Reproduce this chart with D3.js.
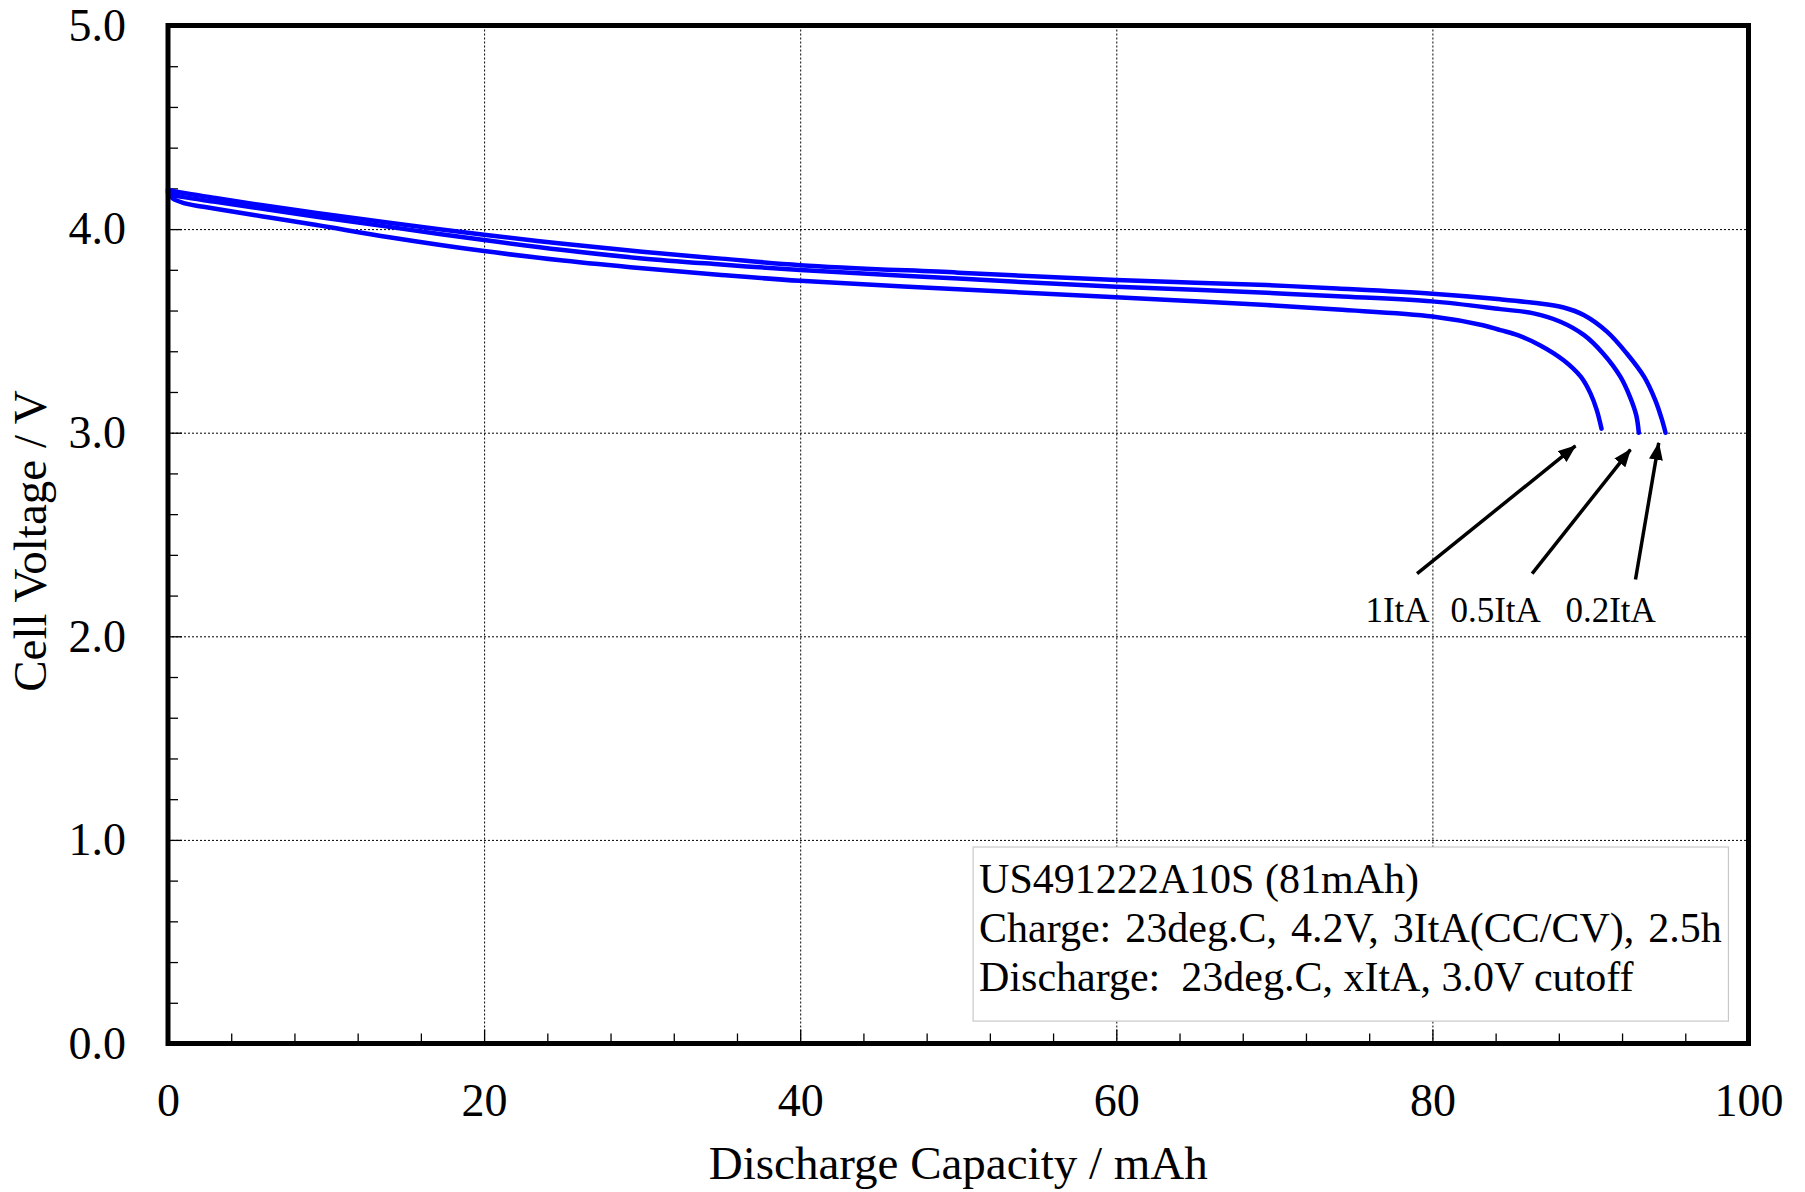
<!DOCTYPE html>
<html>
<head>
<meta charset="utf-8">
<script src="https://cdn.jsdelivr.net/npm/d3@7"></script>
<style>
  html, body { margin: 0; padding: 0; background: #fff; }
  svg { display: block; }
  text { font-family: "Liberation Serif", "Times New Roman", serif; fill: #000; }
</style>
</head>
<body>
<svg id="chart" width="1805" height="1192"></svg>
<script>
// ---------------- DATA ----------------
const xTicks = [0, 20, 40, 60, 80, 100];
const yTicks = [0, 1, 2, 3, 4, 5];
const xMinorTicks = [4, 8, 12, 16, 24, 28, 32, 36, 44, 48, 52, 56, 64, 68, 72, 76, 84, 88, 92, 96];
const yMinorTicks = [0.2, 0.4, 0.6, 0.8, 1.2, 1.4, 1.6, 1.8, 2.2, 2.4, 2.6, 2.8, 3.2, 3.4, 3.6, 3.8, 4.2, 4.4, 4.6, 4.8];
const xGrid = [20, 40, 60, 80];
const yGrid = [1, 2, 3, 4];

const seriesNames = ["0.2ItA", "0.5ItA", "1ItA"];

const cap02 = [0, 0.3, 1, 3, 6, 9.4, 14, 20, 25, 30, 35, 40, 50, 60, 65, 69.5, 74, 80, 84.3, 86.4, 88.3, 89.6, 91.06, 92.3, 93.4, 94.1, 94.5, 94.75];
const volt02 = [4.195, 4.187, 4.177, 4.153, 4.117, 4.079, 4.031, 3.972, 3.928, 3.889, 3.855, 3.823, 3.786, 3.750, 3.737, 3.725, 3.708, 3.682, 3.655, 3.638, 3.615, 3.577, 3.495, 3.389, 3.274, 3.160, 3.070, 3.000];

const cap05 = [0, 0.3, 1, 3, 6, 9.4, 14, 20, 25, 30, 35, 40, 50, 60, 65, 69.5, 74, 80, 84.3, 86.4, 88.1, 89.6, 90.8, 91.9, 92.5, 92.9, 93.06];
const volt05 = [4.188, 4.168, 4.157, 4.134, 4.100, 4.061, 4.011, 3.946, 3.897, 3.856, 3.826, 3.799, 3.757, 3.717, 3.702, 3.687, 3.670, 3.645, 3.607, 3.586, 3.545, 3.479, 3.389, 3.274, 3.176, 3.085, 3.000];

const cap10 = [0, 0.3, 1, 3, 6, 9.4, 14, 20, 25, 30, 35, 40, 50, 60, 65, 69.5, 74, 80, 83.2, 84.3, 85.4, 86.8, 88.3, 89.4, 90.0, 90.4, 90.7];
const volt10 = [4.180, 4.150, 4.128, 4.100, 4.062, 4.020, 3.960, 3.892, 3.846, 3.808, 3.775, 3.746, 3.705, 3.665, 3.646, 3.627, 3.605, 3.571, 3.528, 3.504, 3.479, 3.430, 3.356, 3.274, 3.193, 3.111, 3.020];

// annotation labels and arrows (data units)
const annLabels = ["1ItA", "0.5ItA", "0.2ItA"];
const annLabelX = [75.76, 81.14, 88.42];
const annLabelY = 2.07;
const arrowTailX = [79.03, 86.31, 92.85];
const arrowTailY = [2.308, 2.308, 2.279];
const arrowTipX = [89.05, 92.53, 94.32];
const arrowTipY = [2.935, 2.917, 2.950];

const legendLines = ["US491222A10S (81mAh)", "Charge: 23deg.C, 4.2V, 3ItA(CC/CV), 2.5h", "Discharge:  23deg.C, xItA, 3.0V cutoff"];

const xTitle = "Discharge Capacity / mAh";
const yTitle = "Cell Voltage / V";

// ---------------- LAYOUT ----------------
const L = 168, R = 1748.5, T = 25.5, B = 1043.5;
const svg = d3.select("#chart");
const x = d3.scaleLinear().domain([0, 100]).range([L, R]);
const y = d3.scaleLinear().domain([0, 5]).range([B, T]);
const serif = "Liberation Serif, Times New Roman, serif";

// gridlines
svg.append("g").attr("transform", `translate(0,${B})`)
  .call(d3.axisBottom(x).tickValues(xGrid).tickSize(-(B - T)).tickFormat(""))
  .call(g => g.select(".domain").remove())
  .call(g => g.selectAll("line").attr("stroke", "#000").attr("stroke-width", 1).attr("stroke-dasharray", "2,2"));
svg.append("g").attr("transform", `translate(${L},0)`)
  .call(d3.axisLeft(y).tickValues(yGrid).tickSize(-(R - L)).tickFormat(""))
  .call(g => g.select(".domain").remove())
  .call(g => g.selectAll("line").attr("stroke", "#000").attr("stroke-width", 1).attr("stroke-dasharray", "2,2"));

// minor ticks (inward)
svg.append("g").attr("transform", `translate(0,${B})`)
  .call(d3.axisBottom(x).tickValues(xMinorTicks).tickSize(-10).tickFormat(""))
  .call(g => g.select(".domain").remove())
  .call(g => g.selectAll("line").attr("stroke", "#000").attr("stroke-width", 1.3));
svg.append("g").attr("transform", `translate(${L},0)`)
  .call(d3.axisLeft(y).tickValues(yMinorTicks).tickSize(-10).tickFormat(""))
  .call(g => g.select(".domain").remove())
  .call(g => g.selectAll("line").attr("stroke", "#000").attr("stroke-width", 1.3));

// major ticks + labels
svg.append("g").attr("transform", `translate(0,${B})`)
  .call(d3.axisBottom(x).tickValues(xTicks).tickSizeInner(-14).tickSizeOuter(0).tickPadding(40).tickFormat(d3.format("d")))
  .call(g => g.select(".domain").remove())
  .call(g => g.selectAll("line").attr("stroke", "#000").attr("stroke-width", 1.3))
  .call(g => g.selectAll("text").attr("font-size", 46).attr("font-family", serif));
svg.append("g").attr("transform", `translate(${L},0)`)
  .call(d3.axisLeft(y).tickValues(yTicks).tickSizeInner(-14).tickSizeOuter(0).tickPadding(42).tickFormat(d3.format(".1f")))
  .call(g => g.select(".domain").remove())
  .call(g => g.selectAll("line").attr("stroke", "#000").attr("stroke-width", 1.3))
  .call(g => g.selectAll("text").attr("font-size", 46).attr("font-family", serif));

// legend / info box
const boxX = x(50.94), boxY = y(0.965), boxX2 = x(98.73), boxY2 = y(0.11);
svg.append("rect")
  .attr("x", boxX).attr("y", boxY)
  .attr("width", boxX2 - boxX).attr("height", boxY2 - boxY)
  .attr("fill", "#fff").attr("stroke", "#c8c8c8").attr("stroke-width", 1.2);
svg.append("g").selectAll("text").data(legendLines).join("text")
  .attr("x", boxX + 6)
  .attr("y", (d, i) => boxY + 45.5 + i * 49)
  .attr("font-size", 42)
  .attr("word-spacing", (d, i) => i === 1 ? 3.5 : 0)
  .style("white-space", "pre")
  .text(d => d);

// curves
const line = d3.line().x(d => x(d[0])).y(d => y(d[1])).curve(d3.curveCatmullRom.alpha(0.5));
const series = [
  { name: seriesNames[0], pts: d3.zip(cap02, volt02) },
  { name: seriesNames[1], pts: d3.zip(cap05, volt05) },
  { name: seriesNames[2], pts: d3.zip(cap10, volt10) }
];
svg.append("g").selectAll("path").data(series).join("path")
  .attr("d", d => line(d.pts))
  .attr("fill", "none")
  .attr("stroke", "#0000ff")
  .attr("stroke-width", 4.5)
  .attr("stroke-linecap", "round")
  .attr("stroke-linejoin", "round");

// arrows
svg.append("defs").append("marker")
  .attr("id", "ah").attr("markerUnits", "userSpaceOnUse")
  .attr("viewBox", "0 0 18 14").attr("refX", 17).attr("refY", 7)
  .attr("markerWidth", 18).attr("markerHeight", 14).attr("orient", "auto")
  .append("path").attr("d", "M0,0 L18,7 L0,14 Z").attr("fill", "#000");
svg.append("g").selectAll("line").data(d3.range(annLabels.length)).join("line")
  .attr("x1", i => x(arrowTailX[i])).attr("y1", i => y(arrowTailY[i]))
  .attr("x2", i => x(arrowTipX[i])).attr("y2", i => y(arrowTipY[i]))
  .attr("stroke", "#000").attr("stroke-width", 3.5)
  .attr("marker-end", "url(#ah)");
svg.append("g").selectAll("text").data(d3.range(annLabels.length)).join("text")
  .attr("x", i => x(annLabelX[i])).attr("y", y(annLabelY))
  .attr("font-size", 35)
  .text(i => annLabels[i]);

// frame
svg.append("rect").attr("x", L).attr("y", T).attr("width", R - L).attr("height", B - T)
  .attr("fill", "none").attr("stroke", "#000").attr("stroke-width", 5);

// axis titles
svg.append("text").attr("x", (L + R) / 2).attr("y", 1179).attr("text-anchor", "middle")
  .attr("font-size", 47).text(xTitle);
svg.append("text").attr("transform", `translate(46,${541}) rotate(-90)`).attr("text-anchor", "middle")
  .attr("font-size", 47).text(yTitle);
</script>
</body>
</html>
